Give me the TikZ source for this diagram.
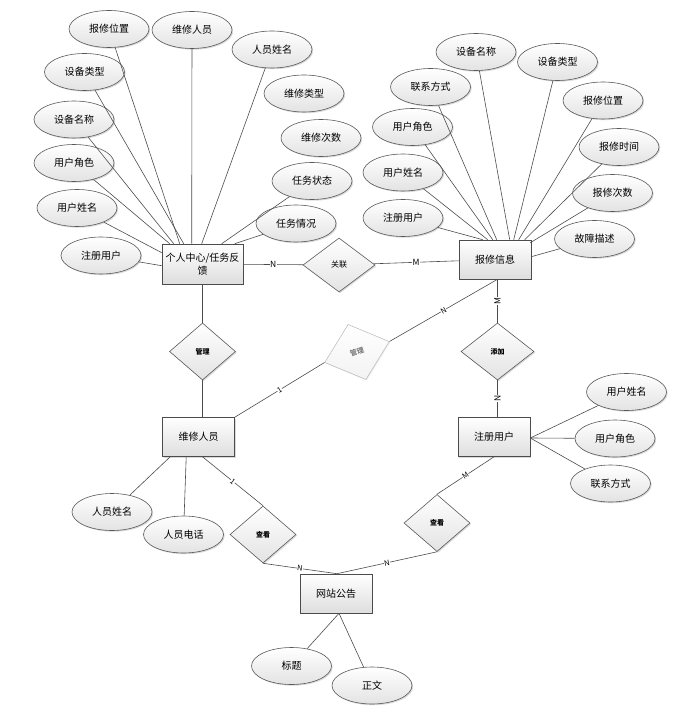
\documentclass[tikz,border=0pt]{standalone}
\usepackage{fontspec}
\setmainfont{Noto Sans CJK SC}
\usetikzlibrary{shapes.geometric,shadows,calc}
\begin{document}
\begin{tikzpicture}[x=1pt,y=-1pt,
  shd/.style={drop shadow={shadow xshift=1.2pt,shadow yshift=-1.2pt,opacity=0.25,fill=black!60}},
  entity/.style={draw=black!70,line width=0.6pt,top color=white,bottom color=black!13,
    minimum width=72pt,minimum height=39pt,inner sep=1pt,shd,
    font=\fontsize{10}{13}\selectfont},
  attr/.style={ellipse,draw=black!65,line width=0.6pt,top color=white,bottom color=black!11,
    minimum width=80pt,minimum height=37pt,inner sep=0pt,shd,
    font=\fontsize{10}{12}\selectfont},
  rel/.style={diamond,draw=black!65,line width=0.6pt,top color=white,bottom color=black!11,
    inner sep=0pt,minimum width=66pt,minimum height=57pt,shd,
    font=\fontsize{7}{8}\selectfont\bfseries},
  conn/.style={draw=black!70,line width=0.6pt},
  card/.style={fill=white,inner sep=0.4pt,font=\fontsize{8.5}{9}\selectfont},
  cards/.style={fill=white,inner sep=0.4pt,font=\fontsize{7.5}{8}\selectfont}]
\useasboundingbox (0,0) rectangle (683,719);

% entities
\node[entity,minimum width=81pt,minimum height=40pt,align=center,inner sep=0pt] (grzx) at (202.5,264) {个人中心/任务反\\馈};
\node[entity] (bxxx) at (495,259.5) {报修信息};
\node[entity] (wxry) at (198.5,437) {维修人员};
\node[entity] (zcyh) at (494,437) {注册用户};
\node[entity] (wzgg) at (336,593.5) {网站公告};

% relations
\node[rel,minimum width=72pt,minimum height=54pt,font=\fontsize{8}{9}\selectfont] (gl) at (339,265) {关联};
\node[rel] (glv) at (202.5,351.5) {管理};
\node[rel,minimum width=73pt] (tj) at (497.5,351.5) {添加};
\node[rel] (ck1) at (263,534.5) {查看};
\node[rel] (ck2) at (437,523) {查看};
\node[diamond,draw=black!28,line width=0.5pt,top color=white,bottom color=black!5,
  inner sep=0pt,minimum width=68pt,minimum height=58pt,rotate=18,
  text=black!50,font=\fontsize{7}{8}\selectfont\bfseries,
  drop shadow={shadow xshift=1pt,shadow yshift=-1pt,opacity=0.12}] (glf) at (357,352) {管理};

% attributes of 个人中心/任务反馈
\node[attr] (a1) at (109,29) {报修位置};
\node[attr] (a2) at (192,30) {维修人员};
\node[attr] (a3) at (272,49.5) {人员姓名};
\node[attr] (a4) at (84.5,72) {设备类型};
\node[attr] (a5) at (304,93.5) {维修类型};
\node[attr] (a6) at (74,119.5) {设备名称};
\node[attr] (a7) at (321,138) {维修次数};
\node[attr] (a8) at (74,163) {用户角色};
\node[attr] (a9) at (312,181) {任务状态};
\node[attr] (a10) at (77,208) {用户姓名};
\node[attr] (a11) at (296,223.5) {任务情况};
\node[attr] (a12) at (101,255.5) {注册用户};

\coordinate (p1) at ($(grzx.north west)+(18,0)$);
\coordinate (p2) at ($(grzx.north west)+(30,0)$);
\coordinate (p3) at ($(grzx.north west)+(40,0)$);
\coordinate (p4) at ($(grzx.north west)+(22,0)$);
\coordinate (p6) at ($(grzx.north west)+(12,0)$);
\coordinate (p8) at ($(grzx.north west)+(8,0)$);
\coordinate (p9) at ($(grzx.north west)+(60,0)$);
\coordinate (p10) at ($(grzx.north west)+(0,9)$);
\coordinate (p11) at ($(grzx.north west)+(73,0)$);
\coordinate (p12) at ($(grzx.north west)+(0,22)$);
\draw[conn] (a1) -- (p1);
\draw[conn] (a2) -- (p2);
\draw[conn] (a3) -- (p3);
\draw[conn] (a4) -- (p4);
\draw[conn] (a6) -- (p6);
\draw[conn] (a8) -- (p8);
\draw[conn] (a9) -- (p9);
\draw[conn] (a10) -- (p10);
\draw[conn] (a11) -- (p11);
\draw[conn] (a12) -- (p12);

% attributes of 报修信息
\node[attr] (b1) at (476,52) {设备名称};
\node[attr] (b2) at (557.5,62) {设备类型};
\node[attr] (b3) at (430.5,87) {联系方式};
\node[attr] (b4) at (603,100.5) {报修位置};
\node[attr] (b5) at (412.5,127) {用户角色};
\node[attr] (b6) at (619,147) {报修时间};
\node[attr] (b7) at (403,172.5) {用户姓名};
\node[attr] (b8) at (612.5,193) {报修次数};
\node[attr] (b9) at (403,218) {注册用户};
\node[attr] (b10) at (594.5,239) {故障描述};

\coordinate (q1) at ($(bxxx.north west)+(51,0)$);
\coordinate (q2) at ($(bxxx.north west)+(55,0)$);
\coordinate (q3) at ($(bxxx.north west)+(38,0)$);
\coordinate (q4) at ($(bxxx.north west)+(60,0)$);
\coordinate (q5) at ($(bxxx.north west)+(34,0)$);
\coordinate (q6) at ($(bxxx.north west)+(66,0)$);
\coordinate (q7) at ($(bxxx.north west)+(29,0)$);
\coordinate (q8) at ($(bxxx.north east)+(-1,3)$);
\coordinate (q9) at ($(bxxx.north west)+(24,0)$);
\coordinate (q10) at ($(bxxx.north east)+(0,17)$);
\draw[conn] (b1) -- (q1);
\draw[conn] (b2) -- (q2);
\draw[conn] (b3) -- (q3);
\draw[conn] (b4) -- (q4);
\draw[conn] (b5) -- (q5);
\draw[conn] (b6) -- (q6);
\draw[conn] (b7) -- (q7);
\draw[conn] (b8) -- (q8);
\draw[conn] (b9) -- (q9);
\draw[conn] (b10) -- (q10);

% attributes of 注册用户
\node[attr] (c1) at (626.5,392) {用户姓名};
\node[attr] (c2) at (615,438.5) {用户角色};
\node[attr] (c3) at (610.5,483.5) {联系方式};
\coordinate (zr) at ($(zcyh.east)+(0,1)$);
\draw[conn] (c1) -- (zr);
\draw[conn] (c2) -- (zr);
\draw[conn] (c3) -- (zr);

% attributes of 维修人员
\node[attr] (d1) at (112,512) {人员姓名};
\node[attr] (d2) at (183.5,534.5) {人员电话};
\draw[conn] (d1) -- ($(wxry.south west)+(8,0)$);
\draw[conn] (d2) -- ($(wxry.south west)+(24,0)$);

% attributes of 网站公告
\node[attr] (e1) at (291.5,666) {标题};
\node[attr] (e2) at (372,685.5) {正文};
\coordinate (wb) at ($(wzgg.south)+(3,0)$);
\draw[conn] (e1) -- (wb);
\draw[conn] (e2) -- (wb);

% relationships
\draw[conn] (grzx) -- node[card]{N} (gl);
\draw[conn] (gl) -- node[card]{M} (bxxx);
\draw[conn] (grzx.south) -- (glv.north);
\draw[conn] (glv.south) -- (glv.south |- wxry.north);
\draw[conn] (wxry.north east) -- node[cards,sloped]{1} (glf.west);
\draw[conn] (glf.east) -- node[cards,sloped]{N} ($(tj.north |- bxxx.south)$);
\draw[conn] (tj.north |- bxxx.south) -- node[card,rotate=90]{M} (tj.north);
\draw[conn] (tj.south) -- node[card,rotate=90]{N} (tj.south |- zcyh.north);
\draw[conn] ($(wxry.south)+(4,0)$) -- node[cards,sloped]{1} (ck1.north);
\draw[conn] (ck1.south) -- node[cards,sloped]{N} ($(wzgg.north)+(1,0)$);
\draw[conn] ($(wzgg.north)+(1,0)$) -- node[cards,sloped]{N} (ck2.south);
\draw[conn] (ck2.north) -- node[cards,sloped]{M} (zcyh.south);
\end{tikzpicture}
\end{document}
